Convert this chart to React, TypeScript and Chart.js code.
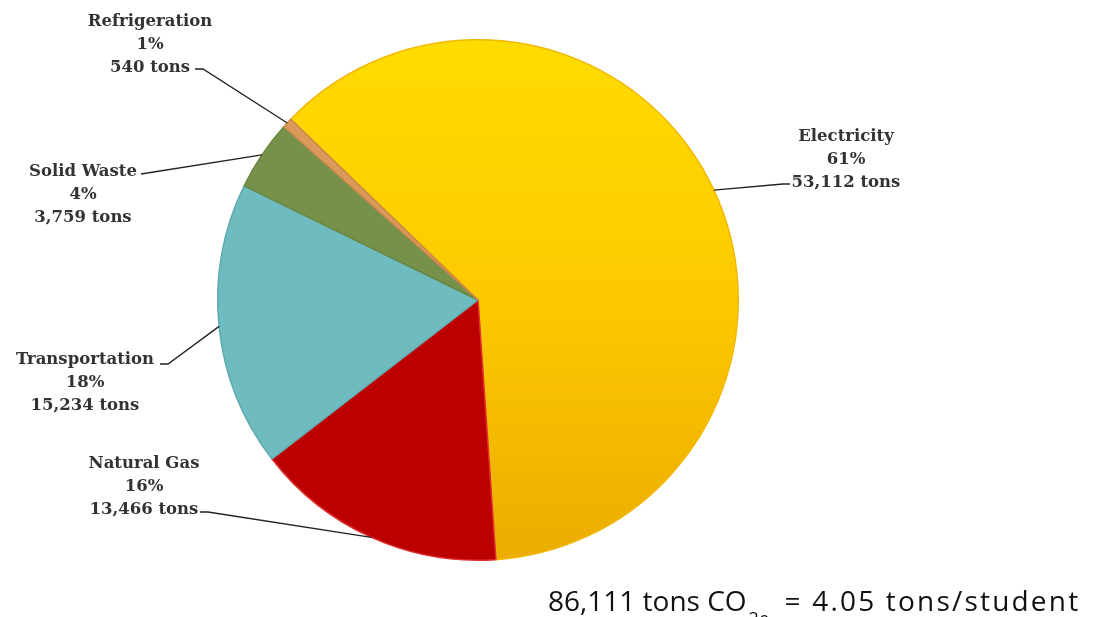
import React, { useEffect, useRef } from "react";
import { Chart, registerables } from "chart.js";

Chart.register(...registerables);

const categories = ["Electricity", "Natural Gas", "Transportation", "Solid Waste", "Refrigeration"];
const tons = [53112, 13466, 15234, 3759, 540];
const percentLabels = ["61%", "16%", "18%", "4%", "1%"];
const tonLabels = ["53,112 tons", "13,466 tons", "15,234 tons", "3,759 tons", "540 tons"];
const colors = ["#FCC800", "#BC0000", "#6EBCC0", "#76914A", "#DB9A5A"];
const borderColors = ["#F2B800", "#E03030", "#5FAAB0", "#6A8640", "#C8884A"];

// label block layout: text center x, first line baseline y, leader anchor (x,y), elbow x
const labelLayout = [
  { cx: 846, y: 141, ax: 790, ay: 184, ex: 783 },
  { cx: 144, y: 468, ax: 200, ay: 512, ex: 208 },
  { cx: 85, y: 364, ax: 160, ay: 364, ex: 168 },
  { cx: 83, y: 176, ax: 141, ay: 174, ex: 141 },
  { cx: 150, y: 26, ax: 195, ay: 69, ex: 203 },
];

const LABEL_FONT = 'bold 16.5px "DejaVu Serif", serif';

const leaderPlugin = {
  id: "leaders",
  afterDatasetsDraw(chart: any) {
    const ctx = chart.ctx;
    const meta = chart.getDatasetMeta(0);
    ctx.save();
    meta.data.forEach((arc: any, i: number) => {
      const p = arc.getProps(["x", "y", "startAngle", "endAngle", "outerRadius"], true);
      const mid = (p.startAngle + p.endAngle) / 2;
      const ex = p.x + Math.cos(mid) * p.outerRadius;
      const ey = p.y + Math.sin(mid) * p.outerRadius;
      const L = labelLayout[i];
      ctx.strokeStyle = "#222";
      ctx.lineWidth = 1.3;
      ctx.beginPath();
      ctx.moveTo(L.ax, L.ay);
      ctx.lineTo(L.ex, L.ay);
      ctx.lineTo(ex, ey);
      ctx.stroke();
      ctx.fillStyle = "#333";
      ctx.font = LABEL_FONT;
      ctx.textAlign = "center";
      ctx.textBaseline = "alphabetic";
      ctx.fillText(categories[i], L.cx, L.y);
      ctx.fillText(percentLabels[i], L.cx, L.y + 23);
      ctx.fillText(tonLabels[i], L.cx, L.y + 46);
    });
    ctx.restore();
  },
};

export default function App() {
  const ref = useRef<HTMLCanvasElement | null>(null);
  useEffect(() => {
    if (!ref.current) return;
    const chart = new Chart(ref.current, {
      type: "pie",
      data: {
        labels: categories,
        datasets: [
          {
            data: tons,
            backgroundColor: (c: any) => {
              const i = c.dataIndex;
              const area = c.chart.chartArea;
              if (!area) return colors[i];
              const g = c.chart.ctx.createLinearGradient(0, area.top, 0, area.bottom);
              if (i === 0) {
                g.addColorStop(0, "#FFDC00");
                g.addColorStop(0.5, "#FDC900");
                g.addColorStop(1, "#ECAC00");
                return g;
              }
              return colors[i];
            },
            borderColor: borderColors,
            borderWidth: 1.5,
          },
        ],
      },
      options: {
        animation: false,
        responsive: false,
        rotation: -46,
        layout: { padding: { left: 217, right: 357, top: 39, bottom: 56 } },
        plugins: { legend: { display: false }, tooltip: { enabled: false } },
      },
      plugins: [leaderPlugin],
    });
    return () => chart.destroy();
  }, []);
  return (
    <div style={{ position: "absolute", left: 0, top: 0, width: 1096, height: 617, overflow: "hidden", background: "#fff" }}>
      <canvas ref={ref} width={1096} height={617} style={{ position: "absolute", left: 0, top: 0 }} />
      <div
        style={{
          position: "absolute",
          left: 548,
          top: 581,
          fontFamily: "'Open Sans', sans-serif",
          fontSize: 28,
          lineHeight: "38px",
          color: "#111",
          whiteSpace: "nowrap",
        }}
      >
        86,111 tons CO
        <sub style={{ fontSize: 18, verticalAlign: "-14px", marginLeft: 2, marginRight: 6 }}>2e</sub>
        <span style={{ letterSpacing: "2.2px" }}> = 4.05 tons/student</span>
      </div>
    </div>
  );
}
